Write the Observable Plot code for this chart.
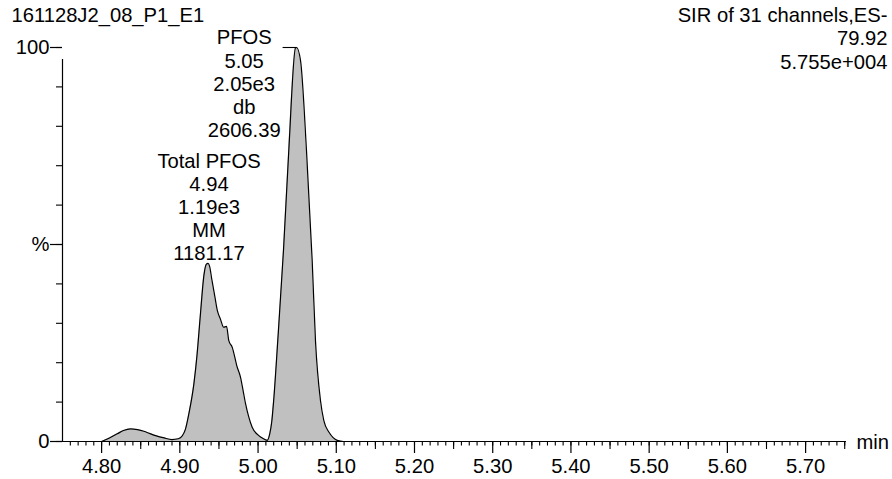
<!DOCTYPE html>
<html><head><meta charset="utf-8">
<script src="https://cdn.jsdelivr.net/npm/d3@7"></script>
<script src="https://cdn.jsdelivr.net/npm/@observablehq/plot@0.6"></script>
<style>
html,body{margin:0;padding:0;background:#fff;}
#chart{width:892px;height:479px;}
</style></head><body><div id="chart"></div>
<script>
// ---- data ----
const titleLeft = "161128J2_08_P1_E1";
const titleRight = ["SIR of 31 channels,ES-", "79.92", "5.755e+004"];
const xUnit = "min";

const retentionTime = [4.800, 4.810, 4.820, 4.828, 4.837, 4.846, 4.854, 4.862, 4.869, 4.880, 4.890, 4.898, 4.903, 4.907,
  4.912, 4.918, 4.922, 4.926, 4.931, 4.934, 4.936, 4.938, 4.941, 4.945, 4.948, 4.952, 4.956, 4.9597, 4.9626,
  4.967, 4.9733, 4.9776, 4.981, 4.984, 4.988, 4.9925, 5.001, 5.006, 5.0117, 5.015, 5.0175, 5.020, 5.0252, 5.0325,
  5.0393, 5.0479, 5.0492, 5.0543, 5.0619, 5.0692, 5.0734, 5.0798, 5.0841, 5.0905, 5.096, 5.1012, 5.1092, 5.751];
const intensity = [0, 0.9, 1.95, 2.8, 3.2, 3.0, 2.6, 2.0, 1.5, 0.9, 0.5, 0.7, 1.4, 3.0,
  7.5, 14.7, 22, 31.5, 42.5, 45.0, 45.2, 44.5, 41, 36.5, 33.2, 31, 29.0, 29.2, 25.6,
  23.9, 18.9, 16.3, 12.8, 9.6, 6.3, 3.6, 1.5, 0.8, 0.3, 2.0, 5.0, 10.5, 25.6, 48.5,
  73.9, 99.9, 100, 96.7, 73.9, 45.9, 25.6, 10.4, 5.3, 2.4, 1.0, 0.3, 0, 0];

const peakTimes = [4.936, 5.05];
const peakHeights = [45.2, 100];
const peakLabels = ["Total PFOS\n4.94\n1.19e3\nMM\n1181.17", "PFOS\n5.05\n2.05e3\ndb\n2606.39"];

const xMajorTicks = [4.8, 4.9, 5.0, 5.1, 5.2, 5.3, 5.4, 5.5, 5.6, 5.7];
const xTickLabels = ["4.80", "4.90", "5.00", "5.10", "5.20", "5.30", "5.40", "5.50", "5.60", "5.70"];
const xMidTicks = [4.85, 4.95, 5.05, 5.15, 5.25, 5.35, 5.45, 5.55, 5.65, 5.75];
const yTicks = [0, 10, 20, 30, 40, 50, 60, 70, 80, 90, 100];
const yLabelTicks = [0, 50, 100];
const yLabelText = ["0", "%", "100"];

// ---- build ----
const trace = retentionTime.map((t, i) => ({t, v: intensity[i]}));
const peaks = peakTimes.map((t, i) => ({t, h: peakHeights[i], label: peakLabels[i]}));
const xMinorTicks = d3.range(476, 576).map(i => i / 100);
const FS = 20.2;
const FONT = "'Liberation Sans', Arial, Helvetica, sans-serif";

const chart = Plot.plot({
  width: 892, height: 479,
  marginLeft: 62, marginRight: 47, marginTop: 47, marginBottom: 38,
  style: {fontFamily: FONT, fontSize: FS + "px", color: "#000", background: "#fff", overflow: "visible"},
  x: {domain: [4.75, 5.751], label: null},
  y: {domain: [0, 100], label: null},
  marks: [
    Plot.areaY(trace, {x: "t", y: "v", fill: "#c0c0c0", curve: "monotone-x"}),
    Plot.lineY(trace, {x: "t", y: "v", stroke: "#000", strokeWidth: 1.2, curve: "monotone-x"}),
    // axis lines
    Plot.ruleY([0], {stroke: "#000", strokeWidth: 1.2}),
    Plot.ruleX([4.75], {y1: 0, y2: 100, insetBottom: -12, stroke: "#000", strokeWidth: 1.2}),
    // x ticks
    Plot.ruleX(xMinorTicks, {x: d => d, y1: 0, y2: 0, insetBottom: -4.5, stroke: "#000", strokeWidth: 1.1}),
    Plot.ruleX(xMidTicks, {x: d => d, y1: 0, y2: 0, insetBottom: -8, stroke: "#000", strokeWidth: 1.1}),
    Plot.axisX({ticks: xMajorTicks, tickSize: 12, tickPadding: 5, strokeWidth: 1.2, fontSize: FS, label: null,
      tickFormat: d => xTickLabels[xMajorTicks.indexOf(d)]}),
    // y ticks
    Plot.ruleY(yTicks, {y: d => d, x1: 4.75, x2: 4.75, insetLeft: -6, stroke: "#000", strokeWidth: 1.1}),
    Plot.axisY({ticks: yLabelTicks, tickSize: 12, tickPadding: 1, strokeWidth: 1.2, fontSize: FS, label: null,
      tickFormat: d => yLabelText[yLabelTicks.indexOf(d)]}),
    // peak annotations
    Plot.text([peaks[0]], {x: "t", y: "h", text: "label", lineAnchor: "bottom", lineHeight: 1.149, dx: 1, dy: -3, fontSize: FS, fill: "#000"}),
    Plot.text([peaks[1]], {x: "t", y: "h", text: "label", lineAnchor: "top", lineHeight: 1.149, dx: -53, dy: -19.5, fontSize: FS, fill: "#000"}),
    Plot.ruleY([peaks[1]], {y: "h", x1: d => d.t - 0.018, x2: "t", stroke: "#000", strokeWidth: 1.1}),
    // header texts
    Plot.text([titleLeft], {frameAnchor: "top-left", text: d => d, textAnchor: "start", lineAnchor: "bottom", dx: -51, dy: -25.5, fontSize: FS, fill: "#000"}),
    Plot.text([titleRight.join("\n")], {frameAnchor: "top-right", text: d => d, textAnchor: "end", lineAnchor: "bottom", lineHeight: 1.163, dx: 42, dy: 21.3, fontSize: FS, fill: "#000"}),
    Plot.text([xUnit], {frameAnchor: "bottom-right", text: d => d, textAnchor: "start", lineAnchor: "bottom", dx: 11, dy: 7, fontSize: FS, fill: "#000"})
  ]
});
document.getElementById("chart").appendChild(chart);
</script>
</body></html>
